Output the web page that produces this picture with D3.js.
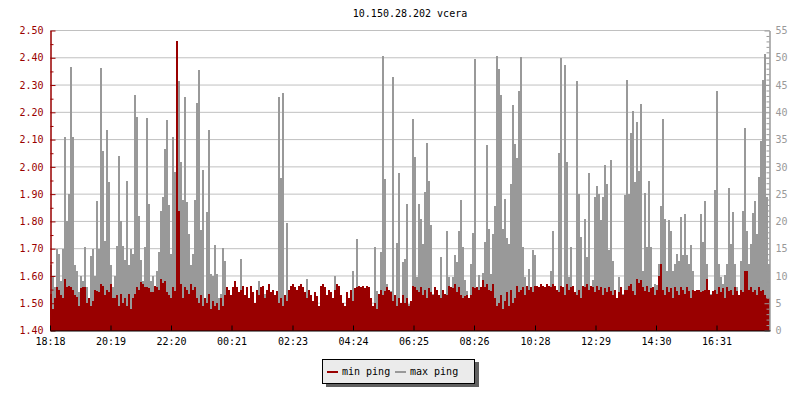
<!DOCTYPE html>
<html><head><meta charset="utf-8">
<script src="https://cdn.jsdelivr.net/npm/d3@7"></script>
<style>
body{margin:0;background:#fff;}
svg text{font-family:"DejaVu Sans Mono",monospace;font-size:10px;}
</style></head><body>
<svg id="c" width="800" height="400"></svg>
<script>
const chartTitle = "10.150.28.202 vcera";
const stepMinutes = 4;
const spanMinutes = 1440;
const tickMinutes = [0,121,242,363,485,606,727,848,970,1091,1212,1333];
const tickLabels = ["18:18","20:19","22:20","00:21","02:23","04:24","06:25","08:26","10:28","12:29","14:30","16:31"];
const leftTicks = [1.4,1.5,1.6,1.7,1.8,1.9,2.0,2.1,2.2,2.3,2.4,2.5];
const rightTicks = [0,5,10,15,20,25,30,35,40,45,50,55];
const seriesNames = ["min ping","max ping"];

const minPing = [
1.534,1.479,1.52,1.559,1.547,1.53,1.52,1.589,1.559,1.565,1.56,1.55,1.53,1.522,1.49,1.555,1.56,1.56,1.50,1.52,1.49,1.51,1.55,1.545,1.54,1.571,1.565,1.53,1.55,1.54,1.571,1.52,1.52,1.53,1.49,1.535,1.50,1.52,1.49,1.535,1.48,1.52,1.535,1.56,1.55,1.577,1.57,1.56,1.559,1.555,1.54,1.54,1.565,1.56,1.55,1.589,1.575,1.58,1.54,1.53,1.52,1.56,1.545,2.46,1.84,1.57,1.52,1.56,1.55,1.535,1.57,1.55,
1.559,1.52,1.50,1.53,1.49,1.52,1.50,1.535,1.48,1.51,1.49,1.50,1.475,1.52,1.49,1.53,1.56,1.55,1.53,1.56,1.583,1.56,1.54,1.55,1.565,1.53,1.56,1.52,1.565,1.54,1.50,1.55,1.53,1.56,1.565,1.52,1.55,1.57,1.54,1.55,1.53,1.545,1.50,1.52,1.49,1.53,1.51,1.55,1.565,1.57,1.56,1.55,1.565,1.57,1.56,1.54,1.52,1.55,1.53,1.51,1.54,1.525,1.49,1.565,1.57,1.56,1.53,1.55,1.54,1.52,1.55,1.57,
1.565,1.53,1.50,1.49,1.54,1.52,1.55,1.51,1.555,1.56,1.565,1.56,1.565,1.555,1.565,1.56,1.52,1.49,1.50,1.48,1.535,1.55,1.53,1.545,1.56,1.55,1.54,1.51,1.53,1.49,1.52,1.50,1.53,1.50,1.52,1.49,1.51,1.565,1.56,1.55,1.54,1.56,1.53,1.55,1.52,1.555,1.54,1.53,1.56,1.55,1.53,1.52,1.55,1.535,1.53,1.565,1.56,1.555,1.57,1.54,1.56,1.53,1.52,1.525,1.53,1.52,1.53,1.56,1.555,1.56,1.55,1.56,
1.585,1.56,1.57,1.55,1.545,1.57,1.52,1.49,1.50,1.53,1.48,1.51,1.54,1.49,1.55,1.50,1.52,1.565,1.54,1.55,1.56,1.53,1.565,1.55,1.56,1.54,1.565,1.565,1.56,1.57,1.565,1.56,1.57,1.565,1.56,1.57,1.565,1.55,1.54,1.565,1.56,1.53,1.57,1.55,1.56,1.565,1.54,1.53,1.55,1.52,1.565,1.56,1.57,1.55,1.565,1.56,1.54,1.565,1.55,1.56,1.53,1.555,1.54,1.56,1.545,1.53,1.55,1.52,1.54,1.56,1.53,1.55,
1.55,1.565,1.57,1.545,1.53,1.59,1.575,1.585,1.56,1.545,1.565,1.54,1.555,1.56,1.53,1.55,1.60,1.644,1.55,1.53,1.56,1.54,1.555,1.52,1.56,1.545,1.53,1.56,1.55,1.535,1.56,1.545,1.52,1.55,1.545,1.55,1.55,1.54,1.545,1.55,1.59,1.55,1.53,1.545,1.55,1.535,1.56,1.54,1.555,1.52,1.56,1.545,1.55,1.53,1.56,1.545,1.53,1.55,1.54,1.62,1.62,1.55,1.56,1.54,1.55,1.53,1.56,1.545,1.55,1.53,1.52,1.52
];

const maxPing = [
12,10,8,15,14,9,15,35.5,20,25,48.4,35.5,12,11,7,10,9,15.4,8,6,13.6,15,10,23.8,15,48.1,33,16.5,36.7,27.2,12,8,10,15.5,32,20,15.5,13,27.5,12,15,14,43.1,39.1,21,13,9,15.3,39,23.2,9,10,6.7,11,14.4,22,24.4,33.3,38.6,23,14,35.5,29,45.8,45.8,30.9,24,42.9,23.5,17.7,12,14,
24,41.7,47.7,18.5,29.5,6,21.7,36.7,10.4,10,15.7,10.4,6,6.7,15.2,12.7,7,3.3,3.1,4.5,6.4,3.1,3.3,13.1,4,3.2,3,3.4,3.1,4.2,3.2,3,9,3.3,3.1,6.7,3.2,3,6.7,3.4,3.1,3.2,42.9,27.9,43.6,6,19.7,3.3,3.1,4,3.2,3,3.4,3.1,3.2,3.5,9.5,3.1,3.2,3,4.1,3.2,3.1,3.4,3,3.2,3.1,4.9,3.2,3,10,3.3,
3.2,3.1,3.3,3,3.4,3.1,3.2,10.9,3.3,16.7,3.2,3.1,3,7.3,3.2,3.1,3.3,3,15.4,7.3,3.3,14.4,50.4,27.7,8.6,3.2,7.3,46.5,5,16,28.9,4,12.5,13.2,23.2,4.9,3.2,38.8,31.8,9.8,23.2,20.4,15.9,25.4,34.4,27.5,19.3,6.7,7.3,3.2,6.1,13.4,6.7,3.3,18.2,9.8,3.2,9.8,13.8,12.5,18.3,24,15.3,9.2,7.3,3.2,12.2,17.9,49.8,7.3,10.2,4.9,
10.6,16.2,34.1,18.7,10.4,17.7,22.9,50.4,48,43.1,18.6,24.1,17,15.9,26.9,41.4,34.2,31.7,44,50.2,15.3,9.8,4,11.3,7.9,14.8,13.9,3.8,4.2,3.6,4.5,3.9,4.1,3.7,11,18.3,4.5,6.7,32.5,49.9,5,48.6,30.9,9.8,15.3,6.7,4,45.8,25.1,17.1,6.7,20.5,13.4,28.9,5,9.2,24.4,26.5,25.1,20.2,24.4,30.3,26.9,14.7,31.2,12.8,7.3,4,9.8,4,6.7,24.8,
46,25.1,36.2,40.3,27.2,38.3,29.3,41.6,11,25.2,15.3,27.5,15.3,7.3,8.6,8.3,12.2,22.9,38.8,20.5,11,20.3,18.3,11,12.2,14,12.8,20.8,13.8,21.4,13.8,12.2,15.6,11,6.7,6.7,6.7,21.4,16.2,23.8,12.2,7.3,6.7,6.1,25.8,44,12.2,9.8,8.6,10.1,12.2,26.2,15.9,21.8,12.2,7.9,6.1,12.8,22,37.2,18.3,12.2,15.9,21.5,23.7,17.7,28.1,34.8,46,50.7,24.4,12.2
];

const RED = "#990000", GREY = "#999999", GRID = "#c0c0c0";
const svg = d3.select("#c");
const x = d3.scaleLinear().domain([0, spanMinutes]).range([50, 770]);
const yL = d3.scaleLinear().domain([1.4, 2.5]).range([330.5, 30.5]);
const yR = d3.scaleLinear().domain([0, 55]).range([330.5, 30.5]);

// grid
svg.append("g").selectAll("line").data(leftTicks).join("line")
  .attr("x1", x(0)).attr("x2", x(spanMinutes))
  .attr("y1", d => yL(d)).attr("y2", d => yL(d))
  .attr("stroke", GRID).attr("stroke-width", 1);

// max ping bars (grey, right axis)
svg.append("g").attr("shape-rendering", "crispEdges").selectAll("rect").data(maxPing).join("rect")
  .attr("x", (d, i) => x(i * stepMinutes))
  .attr("width", x(stepMinutes) - x(0))
  .attr("y", d => yR(d))
  .attr("height", d => yR(0) - yR(d))
  .attr("fill", GREY);

// min ping bars (red, left axis)
svg.append("g").attr("shape-rendering", "crispEdges").selectAll("rect").data(minPing).join("rect")
  .attr("x", (d, i) => x(i * stepMinutes))
  .attr("width", x(stepMinutes) - x(0))
  .attr("y", d => yL(d))
  .attr("height", d => yL(1.4) - yL(d))
  .attr("fill", RED);

// left axis
const leftMinor = leftTicks.slice(0, -1).map(v => v + 0.05);
const gLm = svg.append("g").attr("transform", "translate(50.5,0)")
  .call(d3.axisLeft(yL).tickValues(leftMinor).tickSize(-3).tickSizeOuter(0).tickFormat(""));
const gL = svg.append("g").attr("transform", "translate(50.5,0)")
  .call(d3.axisLeft(yL).tickValues(leftTicks).tickSize(-5).tickSizeOuter(0).tickPadding(7).tickFormat(d3.format(".2f")));
[gLm, gL].forEach(g => { g.selectAll("path,line").attr("stroke", RED); g.selectAll("text").attr("fill", RED).style("font-size","10px").style("font-family","DejaVu Sans Mono"); g.attr("font-size", null).attr("font-family", null); });

// right axis
const rightMinor = d3.range(0, 56).filter(v => v % 5 !== 0);
const gRm = svg.append("g").attr("transform", "translate(769.5,0)")
  .call(d3.axisRight(yR).tickValues(rightMinor).tickSize(-3).tickSizeOuter(0).tickFormat(""));
const gR = svg.append("g").attr("transform", "translate(769.5,0)")
  .call(d3.axisRight(yR).tickValues(rightTicks).tickSize(-5).tickSizeOuter(0).tickPadding(6));
[gRm, gR].forEach(g => { g.selectAll("path,line").attr("stroke", GREY); g.selectAll("text").attr("fill", GREY); g.attr("font-size", null).attr("font-family", null); });

// bottom axis
const gB = svg.append("g").attr("transform", "translate(0,330.5)")
  .call(d3.axisBottom(x).tickValues(tickMinutes).tickFormat((d, i) => tickLabels[i]).tickSize(-5).tickSizeOuter(0).tickPadding(7));
gB.selectAll("path,line").attr("stroke", "#000");
gB.selectAll("text").attr("fill", "#000");
gB.attr("font-size", null).attr("font-family", null);

// title
svg.append("text").attr("x", (x(0) + x(spanMinutes)) / 2).attr("y", 17)
  .attr("text-anchor", "middle").attr("fill", "#000").text(chartTitle);

// legend
const lg = svg.append("g").attr("shape-rendering", "crispEdges");
lg.append("rect").attr("x", 326).attr("y", 362).attr("width", 153).attr("height", 25).attr("fill", "#606060");
lg.append("rect").attr("x", 322.5).attr("y", 359.5).attr("width", 152).attr("height", 24).attr("fill", "#ebebeb").attr("stroke", "#000");
const legendColors = [RED, GREY];
const legendX = [327, 395];
seriesNames.forEach((name, i) => {
  lg.append("line").attr("x1", legendX[i]).attr("x2", legendX[i] + 11).attr("y1", 372).attr("y2", 372)
    .attr("stroke", legendColors[i]).attr("stroke-width", 2);
  lg.append("text").attr("x", legendX[i] + 15).attr("y", 374.5).attr("fill", "#000").text(name);
});
</script>
</body></html>
